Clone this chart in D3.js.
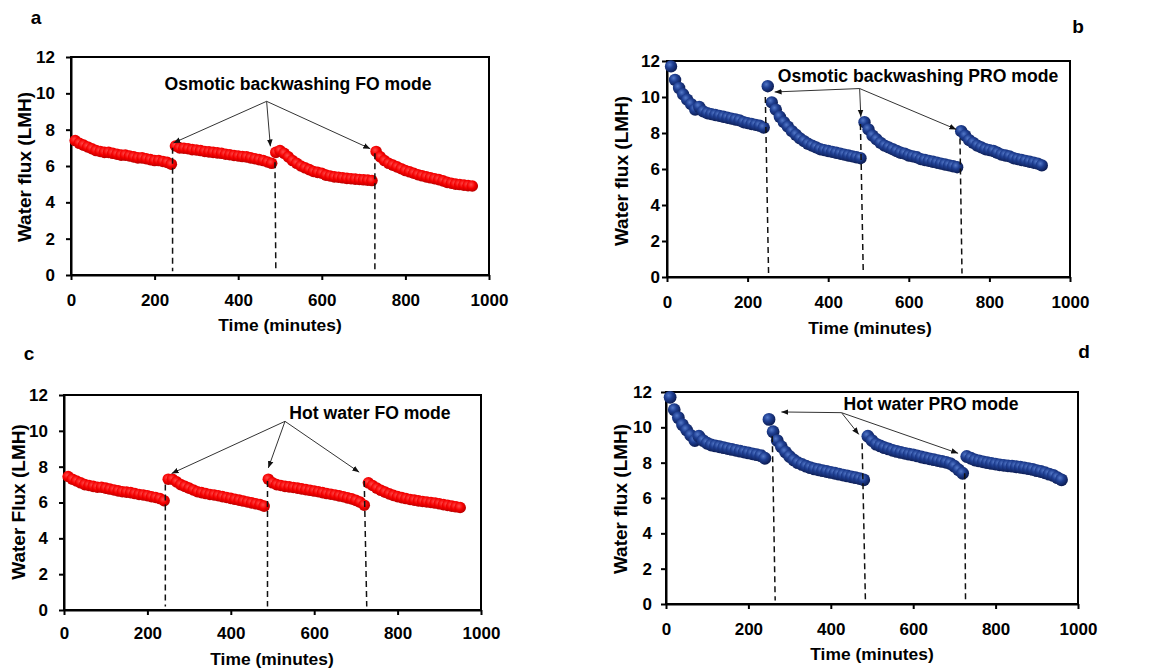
<!DOCTYPE html>
<html><head><meta charset="utf-8">
<script src="https://cdn.jsdelivr.net/npm/d3@7"></script>
<style>
html,body{margin:0;padding:0;background:#fff;}
svg text{font-family:"Liberation Sans",Arial,sans-serif;font-weight:bold;fill:#000;}
</style></head>
<body><svg id="chart" width="1162" height="672"></svg>
<script>
// ---- time stamps (minutes) for the four filtration cycles ----
const seg1T = [10,20,30,40,50,60,70,80,90,100,110,120,130,140,150,160,170,180,190,200,210,220,230,240];
const seg2T = [250,260,270,280,290,300,310,320,330,340,350,360,370,380,390,400,410,420,430,440,450,460,470,480];
const seg3T = [490,500,510,520,530,540,550,560,570,580,590,600,610,620,630,640,650,660,670,680,690,700,710,720];
const seg4T = [730,740,750,760,770,780,790,800,810,820,830,840,850,860,870,880,890,900,910,920,930,940,950,960];

// ---- Panel a: Osmotic backwashing FO mode ----
const aFlux1 = [7.4,7.25,7.15,7.05,6.95,6.85,6.8,6.75,6.75,6.7,6.65,6.6,6.6,6.55,6.5,6.45,6.45,6.4,6.35,6.3,6.3,6.25,6.2,6.1];
const aFlux2 = [7.1,7.0,6.98,6.95,6.9,6.88,6.85,6.8,6.78,6.75,6.72,6.7,6.65,6.62,6.58,6.55,6.52,6.5,6.45,6.4,6.35,6.3,6.22,6.15];
const aFlux3 = [6.75,6.85,6.7,6.5,6.3,6.15,6.0,5.9,5.8,5.7,5.65,5.6,5.5,5.45,5.4,5.38,5.35,5.32,5.3,5.28,5.26,5.24,5.22,5.2];
const aFlux4 = [6.8,6.5,6.3,6.15,6.05,5.95,5.85,5.75,5.68,5.6,5.52,5.46,5.4,5.35,5.3,5.25,5.18,5.1,5.05,5.0,4.98,4.95,4.92,4.9];

// ---- Panel b: Osmotic backwashing PRO mode ----
const bFlux1 = [11.7,10.95,10.5,10.15,9.85,9.6,9.3,9.45,9.2,9.1,9.05,9.0,8.95,8.9,8.85,8.8,8.75,8.7,8.6,8.55,8.5,8.45,8.4,8.3];
const bFlux2 = [10.6,9.7,9.3,8.9,8.6,8.35,8.1,7.9,7.7,7.55,7.4,7.3,7.2,7.1,7.05,7.0,6.95,6.9,6.85,6.8,6.75,6.7,6.65,6.6];
const bFlux3 = [8.6,8.2,7.85,7.65,7.45,7.3,7.2,7.1,7.0,6.9,6.85,6.75,6.7,6.65,6.55,6.5,6.45,6.4,6.35,6.3,6.25,6.2,6.15,6.1];
const bFlux4 = [8.1,7.85,7.6,7.45,7.3,7.2,7.1,7.05,7.0,6.9,6.8,6.75,6.7,6.6,6.55,6.5,6.45,6.4,6.35,6.3,6.2];

// ---- Panel c: Hot water FO mode ----
const cFlux1 = [7.45,7.3,7.2,7.1,7.0,6.95,6.9,6.85,6.85,6.8,6.75,6.7,6.65,6.6,6.58,6.55,6.5,6.45,6.42,6.38,6.32,6.28,6.22,6.1];
const cFlux2 = [7.3,7.3,7.15,7.0,6.9,6.8,6.7,6.6,6.55,6.5,6.45,6.42,6.38,6.33,6.28,6.23,6.18,6.13,6.08,6.03,5.98,5.93,5.88,5.8];
const cFlux3 = [7.3,7.1,7.0,6.95,6.9,6.87,6.84,6.8,6.76,6.72,6.68,6.64,6.6,6.55,6.5,6.46,6.42,6.37,6.32,6.26,6.2,6.12,6.02,5.85];
const cFlux4 = [7.1,6.95,6.8,6.68,6.58,6.48,6.4,6.33,6.27,6.22,6.17,6.13,6.09,6.06,6.03,6.0,5.97,5.93,5.88,5.84,5.8,5.76,5.72];

// ---- Panel d: Hot water PRO mode ----
const dFlux1 = [11.7,11.0,10.55,10.15,9.85,9.55,9.25,9.5,9.25,9.1,9.0,8.95,8.9,8.85,8.8,8.75,8.7,8.65,8.6,8.55,8.5,8.45,8.4,8.25];
const dFlux2 = [10.45,9.75,9.25,8.9,8.6,8.35,8.15,8.0,7.9,7.8,7.72,7.65,7.6,7.55,7.5,7.45,7.4,7.35,7.3,7.25,7.2,7.15,7.1,7.03];
const dFlux3 = [9.5,9.25,9.05,8.95,8.85,8.78,8.7,8.64,8.58,8.53,8.48,8.44,8.38,8.32,8.27,8.22,8.17,8.12,8.07,8.02,7.95,7.8,7.6,7.4];
const dFlux4 = [8.35,8.25,8.15,8.1,8.05,8.0,7.96,7.92,7.88,7.85,7.82,7.8,7.77,7.74,7.7,7.66,7.62,7.55,7.5,7.43,7.35,7.28,7.15,7.03];

// ---- axis ticks ----
const xTicks = [0,200,400,600,800,1000];
const yTicks = [0,2,4,6,8,10,12];

// ---- annotations: cleaning events (dashed lines [tTop, fluxTop, tBottom]) and arrows ----
const aDash = [[243,7.0,243],[488,6.2,490],[727,6.7,727]];
const bDash = [[244,10.0,252],[480,8.5,487],[727,7.7,732]];
const cDash = [[243,7.0,243],[488,7.2,488],[720,7.2,726]];
const dDash = [[258,9.5,265],[476,9.1,484],[725,7.4,727]];
const aArrowFrom = [468,9.56], aArrowTo = [[245,7.27],[477,7.08],[716,6.95]];
const bArrowFrom = [478,10.47], bArrowTo = [[267,10.28],[481,8.9],[718,8.2]];
const cArrowFrom = [530,10.53], cArrowTo = [[258,7.62],[490,7.93],[708,7.69]];
const dArrowFrom = [426,10.83], dArrowTo = [[280,10.87],[468,9.6],[709,8.53]];

const svg = d3.select("#chart");
const defs = svg.append("defs");
const gr = defs.append("radialGradient").attr("id","gRed").attr("cx","40%").attr("cy","38%").attr("r","62%");
gr.append("stop").attr("offset","0%").attr("stop-color","#ff4a4a");
gr.append("stop").attr("offset","55%").attr("stop-color","#f50000");
gr.append("stop").attr("offset","100%").attr("stop-color","#b80000");
const gb = defs.append("radialGradient").attr("id","gBlue").attr("cx","38%").attr("cy","35%").attr("r","65%");
gb.append("stop").attr("offset","0%").attr("stop-color","#5479c9");
gb.append("stop").attr("offset","45%").attr("stop-color","#1f3f92");
gb.append("stop").attr("offset","100%").attr("stop-color","#0c1c52");
defs.append("marker").attr("id","arrowHead").attr("viewBox","0 0 10 10").attr("refX",10).attr("refY",5)
  .attr("markerWidth",7).attr("markerHeight",7).attr("markerUnits","userSpaceOnUse").attr("orient","auto")
  .append("path").attr("d","M0,1 L10,5 L0,9 Z").attr("fill","#111");

const panels = [
  {label:"a", lx:36, ly:24, box:[71,489,57,275], segs:[aFlux1,aFlux2,aFlux3,aFlux4], fill:"url(#gRed)", r:5.8,
   yTitle:"Water flux (LMH)", ytx:24, yty:167, xtx:280, xty:331, ypad:11, xpad:14,
   note:"Osmotic backwashing FO mode", nx:298, ny:90, dash:aDash, from:aArrowFrom, to:aArrowTo},
  {label:"b", lx:1078, ly:33, box:[667,1070,61,277], segs:[bFlux1,bFlux2,bFlux3,bFlux4], fill:"url(#gBlue)", r:6.2,
   yTitle:"Water flux (LMH)", ytx:621, yty:171, xtx:870, xty:334, ypad:2, xpad:14,
   note:"Osmotic backwashing PRO mode", nx:918, ny:82, dash:bDash, from:bArrowFrom, to:bArrowTo},
  {label:"c", lx:29, ly:360, box:[64,481,395,610], segs:[cFlux1,cFlux2,cFlux3,cFlux4], fill:"url(#gRed)", r:5.8,
   yTitle:"Water Flux (LMH)", ytx:18, yty:502, xtx:272, xty:665, ypad:11, xpad:12,
   note:"Hot water FO mode", nx:370, ny:419, dash:cDash, from:cArrowFrom, to:cArrowTo},
  {label:"d", lx:1084, ly:358, box:[666,1078,392,604], segs:[dFlux1,dFlux2,dFlux3,dFlux4], fill:"url(#gBlue)", r:6.4,
   yTitle:"Water flux (LMH)", ytx:620, yty:499, xtx:872, xty:660, ypad:9, xpad:14,
   note:"Hot water PRO mode", nx:931, ny:410, dash:dDash, from:dArrowFrom, to:dArrowTo}
];
const segTimes = [seg1T, seg2T, seg3T, seg4T];

panels.forEach(p => {
  const [x0,x1,y0,y1] = p.box;
  const x = d3.scaleLinear().domain([0,1000]).range([x0,x1]);
  const y = d3.scaleLinear().domain([0,12]).range([y1,y0]);
  const g = svg.append("g");

  // frame
  g.append("rect").attr("x",x0).attr("y",y0).attr("width",x1-x0).attr("height",y1-y0)
    .attr("fill","none").attr("stroke","#000").attr("stroke-width",2);

  const ax = g.append("g").attr("transform",`translate(0,${y1})`)
    .call(d3.axisBottom(x).tickValues(xTicks).tickSize(5).tickSizeOuter(0).tickPadding(p.xpad).tickFormat(d3.format("d")));
  const ay = g.append("g").attr("transform",`translate(${x0},0)`)
    .call(d3.axisLeft(y).tickValues(yTicks).tickSize(5).tickSizeOuter(0).tickPadding(p.ypad).tickFormat(d3.format("d")));
  [ax,ay].forEach(a => {
    a.select(".domain").attr("stroke","#000").attr("stroke-width",2);
    a.selectAll(".tick line").attr("stroke","#000").attr("stroke-width",2);
    a.selectAll(".tick text").attr("font-size",17).attr("font-family","'Liberation Sans',Arial,sans-serif").attr("font-weight","bold").attr("fill","#000");
  });

  // data markers
  p.segs.forEach((vals,i) => {
    const pts = vals.map((v,j) => [segTimes[i][j], v]);
    g.append("g").selectAll("circle").data(pts).join("circle")
      .attr("cx",d => x(d[0])).attr("cy",d => y(d[1])).attr("r",p.r)
      .attr("fill",p.fill);
  });

  // dashed event lines
  g.append("g").selectAll("line").data(p.dash).join("line")
    .attr("x1",d => x(d[0])).attr("y1",d => y(d[1]))
    .attr("x2",d => x(d[2])).attr("y2",y(0.2))
    .attr("stroke","#111").attr("stroke-width",1.5).attr("stroke-dasharray","6,4");

  // arrows
  g.append("g").selectAll("line").data(p.to).join("line")
    .attr("x1",x(p.from[0])).attr("y1",y(p.from[1]))
    .attr("x2",d => x(d[0])).attr("y2",d => y(d[1]))
    .attr("stroke","#333").attr("stroke-width",1).attr("marker-end","url(#arrowHead)");

  g.append("text").attr("x",p.nx).attr("y",p.ny).attr("text-anchor","middle")
    .attr("font-size",17.6).text(p.note);

  g.append("text").attr("x",p.xtx).attr("y",p.xty).attr("text-anchor","middle")
    .attr("font-size",17.4).text("Time (minutes)");
  g.append("text").attr("transform",`translate(${p.ytx},${p.yty}) rotate(-90)`)
    .attr("text-anchor","middle").attr("dy","0.35em").attr("font-size",19).text(p.yTitle);

  g.append("text").attr("x",p.lx).attr("y",p.ly).attr("text-anchor","middle")
    .attr("font-size",19).text(p.label);
});
</script>
</body></html>
